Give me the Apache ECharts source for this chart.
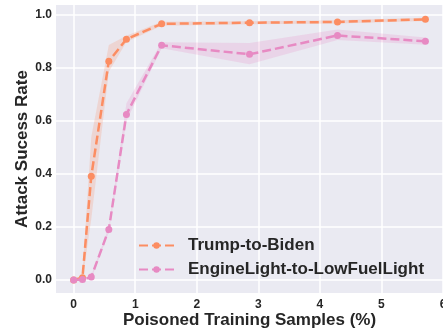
<!DOCTYPE html>
<html>
<head>
<meta charset="utf-8">
<script src="https://cdn.jsdelivr.net/npm/echarts@6/dist/echarts.min.js"></script>
<style>
  html, body { margin: 0; padding: 0; background: #fff; }
  #chart { width: 443px; height: 330px; }
</style>
</head>
<body>
<div id="chart"></div>
<script>
const samples = [0, 0.143, 0.286, 0.571, 0.857, 1.429, 2.857, 4.286, 5.714]

const trumpMean = [0.0, 0.009, 0.392, 0.826, 0.909, 0.967, 0.971, 0.974, 0.984]
const trumpLow = [0.0, 0.0, 0.23, 0.786, 0.898, 0.96, 0.965, 0.968, 0.978]
const trumpHigh = [0.0, 0.02, 0.54, 0.887, 0.922, 0.975, 0.977, 0.98, 0.99]

const engineMean = [0.0, 0.002, 0.011, 0.191, 0.625, 0.886, 0.852, 0.923, 0.901]
const engineLow = [0.0, 0.0, 0.004, 0.18, 0.6, 0.875, 0.814, 0.906, 0.888]
const engineHigh = [0.0, 0.005, 0.018, 0.2, 0.667, 0.897, 0.895, 0.946, 0.915]

const xTicks = [0, 1, 2, 3, 4, 5, 6]
const yTicks = [0, 0.2, 0.4, 0.6, 0.8, 1.0]

const names = ['Trump-to-Biden', 'EngineLight-to-LowFuelLight']
const colors = ['#fc8d62', '#e78ac3']
const textColor = '#262626'
const font = 'Liberation Sans'

const chart = echarts.init(document.getElementById('chart'))

// shaded band between low and high, one polygon per series
const band = (low, high, color) => ({
  type: 'custom',
  silent: true,
  z: 1,
  encode: { x: 0, y: [1, 2] },
  data: samples.map((x, i) => [x, low[i], high[i]]),
  renderItem: (params, api) => {
    if (params.dataIndex !== 0) return
    const upper = samples.map((x, i) => api.coord([x, high[i]]))
    const lower = samples.map((x, i) => api.coord([x, low[i]])).reverse()
    return {
      type: 'polygon',
      shape: { points: upper.concat(lower) },
      style: { fill: color }
    }
  }
})

const line = (name, values, color) => ({
  name,
  type: 'line',
  z: 3,
  data: samples.map((x, i) => [x, values[i]]),
  symbol: 'circle',
  symbolSize: 7,
  showAllSymbol: true,
  itemStyle: { color },
  lineStyle: { color, width: 2.5, type: [9, 4] },
  emphasis: { disabled: true }
})

const option = {
  animation: false,
  grid: {
    left: 56,
    right: 0,
    top: 5,
    bottom: 37,
    outerBoundsMode: 'none',
    show: true,
    backgroundColor: '#eaeaf2',
    borderWidth: 0
  },
  legend: {
    data: names,
    orient: 'vertical',
    left: 133,
    top: 232,
    itemWidth: 35,
    itemHeight: 8,
    itemGap: 7,
    textStyle: {
      color: textColor,
      fontFamily: font,
      fontSize: 17,
      fontWeight: 'bold',
      padding: [0, 0, 0, 9]
    }
  },
  xAxis: {
    type: 'value',
    min: -0.287,
    max: 6.0,
    name: 'Poisoned Training Samples (%)',
    nameLocation: 'middle',
    nameGap: 19,
    nameMoveOverlap: false,
    nameTextStyle: { color: textColor, fontFamily: font, fontSize: 17, fontWeight: 'bold' },
    axisLine: { show: false },
    axisTick: { show: true, length: 0, customValues: xTicks },
    axisLabel: {
      customValues: xTicks,
      margin: 6,
      color: textColor,
      fontFamily: font,
      fontSize: 12,
      fontWeight: 'bold'
    },
    splitLine: { show: true, lineStyle: { color: '#ffffff', width: 1.5 } }
  },
  yAxis: {
    type: 'value',
    min: -0.049,
    max: 1.038,
    name: 'Attack Sucess Rate',
    nameLocation: 'middle',
    nameGap: 25,
    nameMoveOverlap: false,
    nameTextStyle: { color: textColor, fontFamily: font, fontSize: 17, fontWeight: 'bold' },
    axisLine: { show: false },
    axisTick: { show: true, length: 0, customValues: yTicks },
    axisLabel: {
      customValues: yTicks,
      formatter: (v) => v.toFixed(1),
      margin: 4,
      color: textColor,
      fontFamily: font,
      fontSize: 12,
      fontWeight: 'bold'
    },
    splitLine: { show: true, lineStyle: { color: '#ffffff', width: 1.5 } }
  },
  series: [
    band(trumpLow, trumpHigh, 'rgba(252,141,98,0.22)'),
    band(engineLow, engineHigh, 'rgba(231,138,195,0.22)'),
    line(names[0], trumpMean, colors[0]),
    line(names[1], engineMean, colors[1])
  ]
}

chart.setOption(option)
</script>
</body>
</html>
